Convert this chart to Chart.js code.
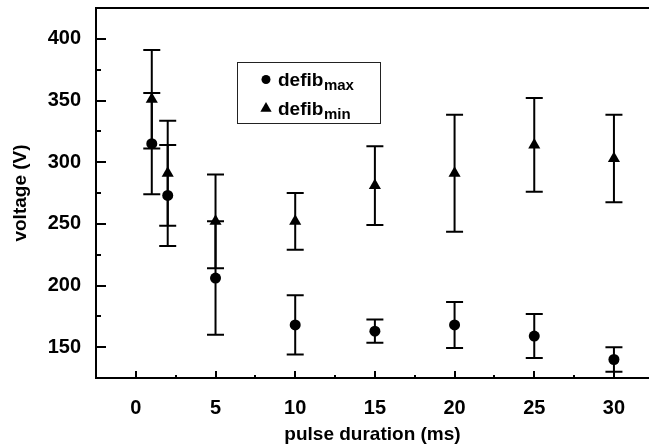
<!DOCTYPE html>
<html>
<head>
<meta charset="utf-8">
<script src="https://cdn.jsdelivr.net/npm/chart.js@4/dist/chart.umd.min.js"></script>
<style>
  html, body { margin: 0; padding: 0; background: #fff; }
</style>
</head>
<body>
<canvas id="chart" width="649" height="446"></canvas>
<script>
// pulse duration (ms) and voltages
const durations = [1, 2, 5, 10, 15, 20, 25, 30];
const defibMax = [315, 273, 206, 168, 163, 168, 159, 140];
const defibMaxErr = [41, 41, 46, 24, 9.5, 18.7, 17.8, 10];
const defibMin = [351, 291, 252, 252, 281, 291, 314, 303];
const defibMinErr = [40, 42.5, 38, 23, 32, 47.5, 38, 35.5];
const xTicks = [0, 5, 10, 15, 20, 25, 30];
const yTicks = [150, 200, 250, 300, 350, 400];

Chart.defaults.font.family = '"Liberation Sans", Arial, sans-serif';
Chart.defaults.color = '#000';

const toPoints = (xs, ys) => xs.map((v, i) => ({ x: v, y: ys[i] }));

// vertical error bars with caps, drawn under the markers
const errorBars = {
    id: 'errorBars',
    beforeDatasetsDraw(chart) {
        const { ctx, scales: { x, y } } = chart;
        ctx.save();
        ctx.strokeStyle = '#000';
        ctx.lineWidth = 2;
        chart.data.datasets.forEach(ds => {
            ds.data.forEach((p, i) => {
                const px = x.getPixelForValue(p.x);
                const top = y.getPixelForValue(p.y + ds.errors[i]);
                const bot = y.getPixelForValue(p.y - ds.errors[i]);
                ctx.beginPath();
                ctx.moveTo(px, top); ctx.lineTo(px, bot);
                ctx.moveTo(px - 8.5, top); ctx.lineTo(px + 8.5, top);
                ctx.moveTo(px - 8.5, bot); ctx.lineTo(px + 8.5, bot);
                ctx.stroke();
            });
        });
        ctx.restore();
    }
};

// top frame line, inward tick marks and the boxed legend with subscripts
const frame = {
    id: 'frame',
    afterDraw(chart) {
        const { ctx, chartArea: a, scales: { x, y } } = chart;
        ctx.save();
        ctx.strokeStyle = '#000';
        ctx.lineWidth = 2;
        ctx.beginPath();
        ctx.moveTo(a.left - 1, a.top);
        ctx.lineTo(a.right, a.top);
        ctx.stroke();

        ctx.beginPath();
        for (let v = y.min; v <= y.max; v += 25) {
            const py = Math.round(y.getPixelForValue(v));
            const len = yTicks.includes(v) ? 10 : 5;
            ctx.moveTo(a.left, py); ctx.lineTo(a.left + len, py);
        }
        for (let v = x.min; v <= x.max; v += 2.5) {
            const px = Math.round(x.getPixelForValue(v));
            const len = xTicks.includes(v) ? 7 : 3;
            ctx.moveTo(px, a.bottom); ctx.lineTo(px, a.bottom - len);
        }
        ctx.stroke();

        // legend
        const bx = a.left + 141, by = a.top + 54, bw = 143, bh = 61;
        ctx.fillStyle = '#fff';
        ctx.fillRect(bx, by, bw, bh);
        ctx.lineWidth = 1;
        ctx.strokeStyle = '#222';
        ctx.strokeRect(bx + 0.5, by + 0.5, bw, bh);
        ctx.fillStyle = '#000';
        ctx.textBaseline = 'alphabetic';
        chart.data.datasets.forEach((ds, i) => {
            const cy = by + 17.5 + i * 29;
            Chart.helpers.drawPoint(ctx, {
                pointStyle: ds.pointStyle,
                radius: ds.pointStyle === 'circle' ? 4.5 : 6.5,
                rotation: 0,
                borderWidth: 0
            }, bx + 29, cy);
            const [main, sub] = ds.label.split('_');
            ctx.font = 'bold 19px "Liberation Sans", Arial, sans-serif';
            ctx.fillText(main, bx + 41, cy + 6.5);
            const w = ctx.measureText(main).width;
            ctx.font = 'bold 15px "Liberation Sans", Arial, sans-serif';
            ctx.fillText(sub, bx + 41 + w + 0.5, cy + 10);
        });
        ctx.restore();
    }
};

new Chart(document.getElementById('chart'), {
    type: 'scatter',
    data: {
        datasets: [
            {
                label: 'defib_max',
                data: toPoints(durations, defibMax),
                errors: defibMaxErr,
                pointStyle: 'circle',
                pointRadius: 5.5,
                pointHoverRadius: 5.5,
                backgroundColor: '#000',
                borderColor: '#000',
                borderWidth: 0
            },
            {
                label: 'defib_min',
                data: toPoints(durations, defibMin),
                errors: defibMinErr,
                pointStyle: 'triangle',
                pointRadius: 7,
                pointHoverRadius: 7,
                backgroundColor: '#000',
                borderColor: '#000',
                borderWidth: 0
            }
        ]
    },
    options: {
        responsive: false,
        animation: false,
        layout: { autoPadding: false, padding: { top: 8, right: 0, left: 0, bottom: 0 } },
        plugins: {
            legend: { display: false },
            tooltip: { enabled: false }
        },
        scales: {
            x: {
                type: 'linear',
                min: -2.5,
                max: 32.2,
                afterFit: s => { s.height = 68; s.paddingLeft = 0; s.paddingRight = 0; },
                afterBuildTicks: s => { s.ticks = xTicks.map(v => ({ value: v })); },
                grid: { display: false, drawTicks: false },
                border: { display: true, color: '#000', width: 2 },
                ticks: {
                    padding: 18,
                    font: { size: 20, weight: 'bold' }
                },
                title: {
                    display: true,
                    text: 'pulse duration (ms)',
                    font: { size: 19, weight: 'bold' },
                    padding: { top: 0, bottom: 0 }
                }
            },
            y: {
                min: 125,
                max: 425,
                afterFit: s => { s.width = 96; s.paddingTop = 0; s.paddingBottom = 0; },
                afterBuildTicks: s => { s.ticks = yTicks.map(v => ({ value: v })); },
                grid: { display: false, drawTicks: false },
                border: { display: true, color: '#000', width: 2 },
                ticks: {
                    padding: 15,
                    font: { size: 20, weight: 'bold' }
                },
                title: {
                    display: true,
                    text: 'voltage (V)',
                    font: { size: 19, weight: 'bold' },
                    padding: { top: 9, bottom: 0 }
                }
            }
        }
    },
    plugins: [errorBars, frame]
});
</script>
</body>
</html>
